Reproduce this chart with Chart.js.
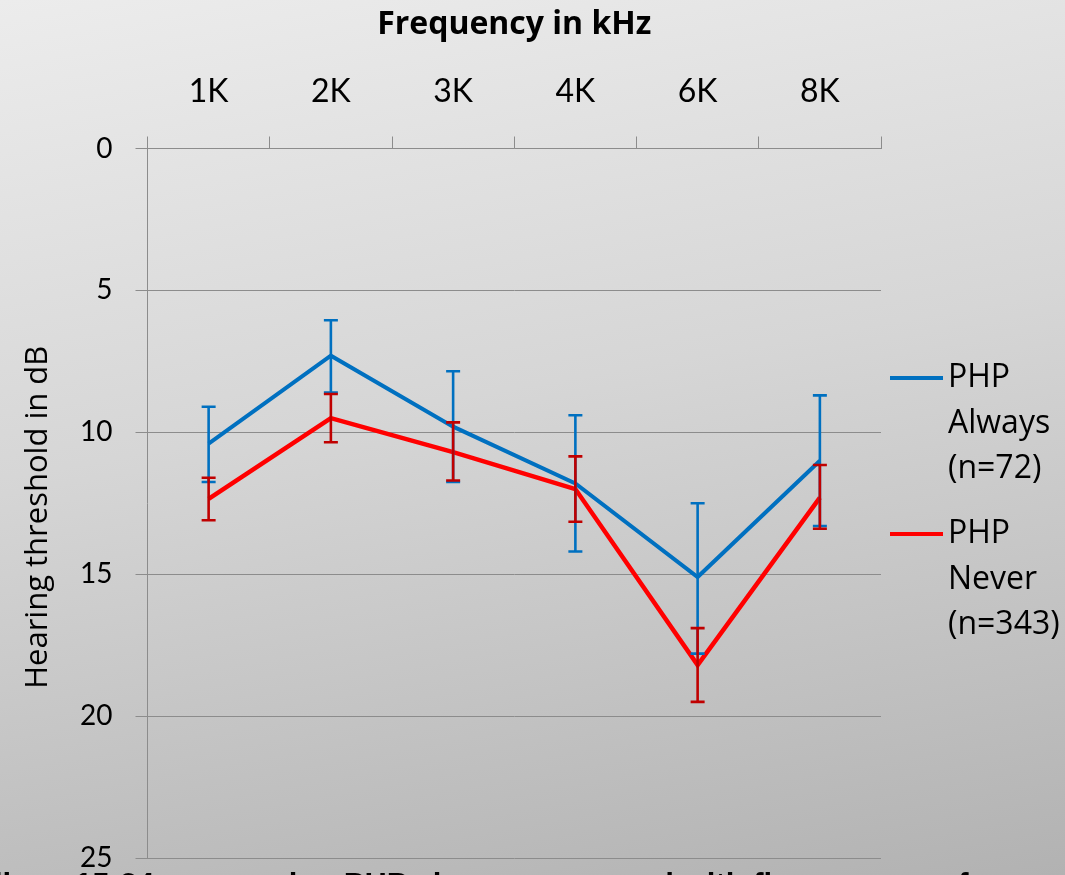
<!DOCTYPE html>
<html>
<head>
<meta charset="utf-8">
<script src="https://cdn.jsdelivr.net/npm/chart.js@4.4.0/dist/chart.umd.min.js"></script>
<style>
  html, body { margin: 0; padding: 0; width: 1065px; height: 875px; overflow: hidden; }
  body { background: linear-gradient(170deg, #ececec 0%, #d6d6d6 45%, #b2b2b2 100%); position: relative; }
  #wrap { position: absolute; left: 0; top: 0; width: 1065px; height: 875px; }
  #caption { position: absolute; left: -6px; top: 869px; white-space: nowrap; font: bold 31px "Liberation Sans", Arial, sans-serif; line-height: 1; color: #000; }
</style>
</head>
<body>
<div id="wrap"><canvas id="c" width="1065" height="875"></canvas></div>
<div id="caption">lhm &nbsp; 15-24 years using PHP always compared with firearm users f</div>
<script>
// ---- data ----
const categories = ['1K', '2K', '3K', '4K', '6K', '8K'];
const alwaysLabel = ['PHP', 'Always', '(n=72)'];
const neverLabel = ['PHP', 'Never', '(n=343)'];
const alwaysMean = [10.4, 7.3, 9.8, 11.8, 15.1, 11.0];
const alwaysLow  = [9.1, 6.05, 7.85, 9.4, 12.5, 8.7];   // upper whisker (smaller dB)
const alwaysHigh = [11.75, 8.6, 11.75, 14.2, 17.8, 13.3];
const neverMean = [12.35, 9.5, 10.7, 12.0, 18.2, 12.3];
const neverLow  = [11.6, 8.65, 9.65, 10.85, 16.9, 11.15];
const neverHigh = [13.1, 10.35, 11.7, 13.15, 19.5, 13.4];
const yTicks = [0, 5, 10, 15, 20, 25];
const xTitle = 'Frequency in kHz';
const yTitle = 'Hearing threshold in dB';

const BLUE = '#0070C0';
const RED = '#FF0000';
const DARKRED = '#C00000';
const GRID = '#8c8c8c';
const TICKFONT = 'Lato, "Open Sans", sans-serif';
const FONT = '"Open Sans", Lato, sans-serif';

const errorBars = {
  id: 'errorBars',
  afterDatasetsDraw(chart) {
    const ctx = chart.ctx;
    const y = chart.scales.y;
    chart.data.datasets.forEach((ds, i) => {
      const meta = chart.getDatasetMeta(i);
      ctx.save();
      ctx.strokeStyle = ds.errColor;
      ctx.lineWidth = 2.6;
      meta.data.forEach((pt, j) => {
        const x = pt.x;
        const y1 = y.getPixelForValue(ds.errLow[j]);
        const y2 = y.getPixelForValue(ds.errHigh[j]);
        const w = 7;
        ctx.beginPath();
        ctx.moveTo(x, y1); ctx.lineTo(x, y2);
        ctx.moveTo(x - w, y1); ctx.lineTo(x + w, y1);
        ctx.moveTo(x - w, y2); ctx.lineTo(x + w, y2);
        ctx.stroke();
      });
      ctx.restore();
    });
  }
};

const yAxisTitle = {
  id: 'yAxisTitle',
  afterDraw(chart) {
    const ctx = chart.ctx;
    const s = chart.scales.y;
    ctx.save();
    ctx.translate(38, (s.top + s.bottom) / 2 + 14);
    ctx.rotate(-Math.PI / 2);
    ctx.fillStyle = '#000';
    ctx.font = '31px ' + FONT;
    ctx.textAlign = 'center';
    ctx.textBaseline = 'middle';
    ctx.fillText(yTitle, 0, 0);
    ctx.restore();
  }
};

const customLegend = {
  id: 'customLegend',
  afterDraw(chart) {
    const ctx = chart.ctx;
    const area = chart.chartArea;
    const x0 = area.right + 9;
    const starts = [378, 534];
    const lh = 45.5;
    ctx.save();
    chart.data.datasets.forEach((ds, i) => {
      const yy = starts[i];
      ctx.strokeStyle = ds.borderColor;
      ctx.lineWidth = 4;
      ctx.beginPath();
      ctx.moveTo(x0, yy); ctx.lineTo(x0 + 53, yy);
      ctx.stroke();
      ctx.fillStyle = '#000';
      ctx.font = '32px ' + FONT;
      ctx.textBaseline = 'middle';
      ctx.textAlign = 'left';
      ds.label.forEach((t, k) => ctx.fillText(t, x0 + 58, yy + k * lh));
    });
    ctx.restore();
  }
};

new Chart(document.getElementById('c'), {
  type: 'line',
  data: {
    labels: categories,
    datasets: [
      { label: alwaysLabel, data: alwaysMean, errLow: alwaysLow, errHigh: alwaysHigh, errColor: BLUE,
        borderColor: BLUE, backgroundColor: BLUE, borderWidth: 4, pointRadius: 0, tension: 0, fill: false },
      { label: neverLabel, data: neverMean, errLow: neverLow, errHigh: neverHigh, errColor: DARKRED,
        borderColor: RED, backgroundColor: RED, borderWidth: 4.5, pointRadius: 0, tension: 0, fill: false }
    ]
  },
  options: {
    responsive: false,
    animation: false,
    events: [],
    layout: { padding: { left: 0, right: 184, top: 0, bottom: 17 } },
    plugins: { legend: { display: false }, tooltip: { enabled: false } },
    scales: {
      x: {
        position: 'top',
        offset: true,
        afterFit(s) { s.height = 148.5; s.paddingLeft = 0; s.paddingRight = 0; },
        grid: { offset: true, drawOnChartArea: false, drawTicks: true, tickLength: 12, color: GRID, lineWidth: 1 },
        border: { display: true, color: GRID, width: 1 },
        ticks: { color: '#000', font: { family: TICKFONT, size: 32 }, padding: 26 },
        title: { display: true, text: xTitle, color: '#000', font: { family: FONT, size: 32, weight: 'bold' }, padding: { top: 6, bottom: 0 } }
      },
      y: {
        reverse: true,
        min: 0,
        max: 25,
        afterFit(s) { s.width = 147.5; s.paddingTop = 0; s.paddingBottom = 0; },
        afterBuildTicks(s) { s.ticks = yTicks.map(v => ({ value: v })); },
        grid: { color: GRID, lineWidth: 1, drawTicks: true, tickLength: 12 },
        border: { display: true, color: GRID, width: 1 },
        ticks: { color: '#000', font: { family: TICKFONT, size: 28, lineHeight: 1 }, padding: 23 },
        title: { display: false, text: yTitle }
      }
    }
  },
  plugins: [errorBars, yAxisTitle, customLegend]
});
</script>
</body>
</html>
